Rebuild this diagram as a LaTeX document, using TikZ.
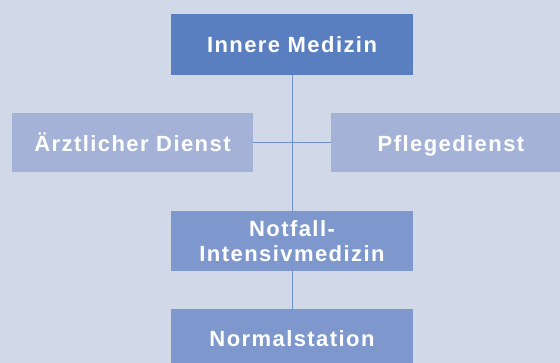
\documentclass[tikz,border=0pt]{standalone}
\usepackage{fontspec}
\setmainfont{Liberation Sans}[LetterSpace=6.5]
\definecolor{bgc}{HTML}{D1D8E8}
\definecolor{topc}{HTML}{5A7FC1}
\definecolor{sidec}{HTML}{A3B2D6}
\definecolor{midc}{HTML}{7E98CE}
\definecolor{linec}{HTML}{7090CC}
\begin{document}
\begin{tikzpicture}[x=1pt,y=1pt,
  orgbox/.style={rectangle, draw=none, text=white, align=center, inner sep=0pt,
    font=\fontsize{22}{24.5}\selectfont\bfseries},
  conn/.style={draw=linec, line width=1pt}]
\useasboundingbox (0,0) rectangle (560,363);
\fill[bgc] (0,0) rectangle (560,363);
\node[orgbox, fill=topc, minimum width=242pt, minimum height=61pt] (inn) at (292,318.5) {Innere Medizin};
\node[orgbox, fill=sidec, minimum width=241pt, minimum height=59pt] (arz) at (132.5,220.5) {Ärztlicher Dienst};
\node[orgbox, fill=sidec, minimum width=229pt, minimum height=59pt] (pfl) at (445.5,220.5) {};
\path (arz.base) ++(0,0) coordinate (arzb);
\node[orgbox, anchor=base] (pfltxt) at (arzb -| 451,0) {Pflegedienst};
\node[orgbox, fill=midc, minimum width=242pt, minimum height=60pt] (not) at (292,122) {Notfall-\\Intensivmedizin};
\node[orgbox, fill=midc, minimum width=242pt, minimum height=60pt] (nor) at (292,24) {Normalstation};
\draw[conn] (inn.south) -- (not.north);
\draw[conn] (arz.east) -- (pfl.west);
\draw[conn] (not.south) -- (nor.north);
\end{tikzpicture}
\end{document}
